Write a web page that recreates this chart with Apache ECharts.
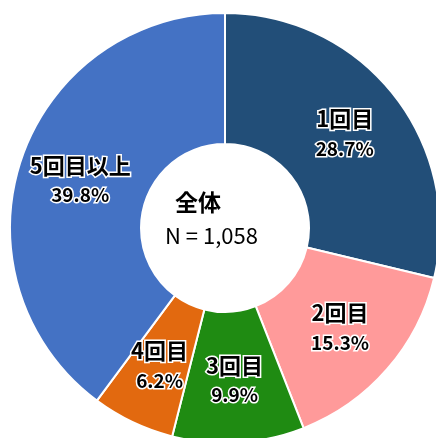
<!DOCTYPE html>
<html><head><meta charset="utf-8">
<script src="https://cdn.jsdelivr.net/npm/echarts@6/dist/echarts.min.js"></script>
<style>html,body{margin:0;padding:0;background:#fff}#c{width:436px;height:438px}</style>
</head><body><div id="c"></div>
<script>
var categories = ['1回目', '2回目', '3回目', '4回目', '5回目以上'];
var values = [28.7, 15.3, 9.9, 6.2, 39.8];
var colors = ['#224E78', '#FF9A9A', '#1F8B12', '#E2690F', '#4472C4'];
var centerTitle = '全体';
var centerSub = 'N = 1,058';

var chart = echarts.init(document.getElementById('c'));
var font = '"Noto Sans CJK JP", "Noto Sans", sans-serif';
chart.setOption({
  animation: false,
  graphic: [
    {type: 'text', left: 225 - 50, top: 191, style: {text: centerTitle, width: 100, x: 50, textAlign: 'center', fill: '#000', font: 'bold 23px ' + font}},
    {type: 'text', left: 225 - 60, top: 225, style: {text: centerSub, width: 120, x: 60, textAlign: 'center', fill: '#000', font: '22px ' + font}}
  ],
  series: [{
    type: 'pie',
    center: [225, 228],
    radius: [84, 215],
    startAngle: 90,
    clockwise: true,
    avoidLabelOverlap: false,
    itemStyle: {borderColor: '#fff', borderWidth: 2},
    label: {
      show: true,
      position: 'inside',
      formatter: function (p) { return '{n|' + p.name + '}\n{p|' + p.value.toFixed(1) + '%}'; },
      color: '#000',
      fontFamily: font,
      fontWeight: 'bold',
      textBorderColor: '#fff',
      textBorderWidth: 3,
      rich: {
        n: {fontSize: 22, lineHeight: 30, fontWeight: 'bold', fontFamily: font, color: '#000', textBorderColor: '#fff', textBorderWidth: 3},
        p: {fontSize: 19, lineHeight: 30, fontWeight: 'bold', fontFamily: font, color: '#000', textBorderColor: '#fff', textBorderWidth: 3}
      }
    },
    labelLine: {show: false},
    data: categories.map(function (c, i) {
      return {name: c, value: values[i], itemStyle: {color: colors[i]}};
    })
  }]
});
</script>
</body></html>
